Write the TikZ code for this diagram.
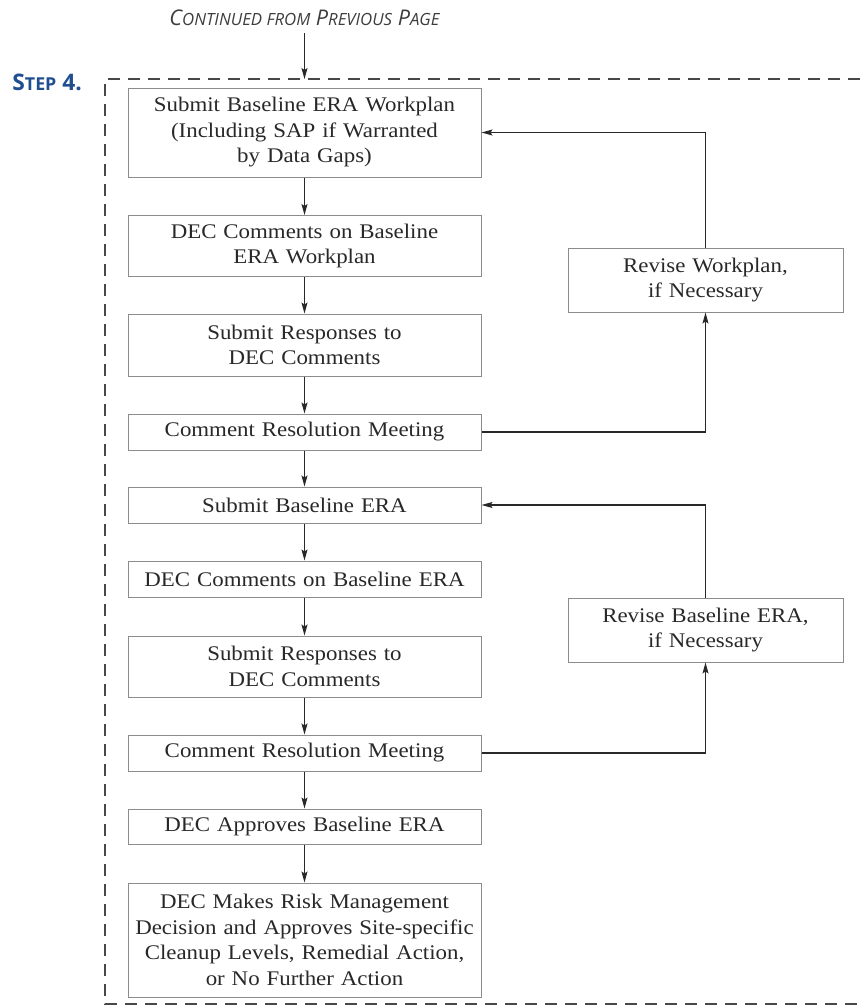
\documentclass[tikz,border=0pt]{standalone}
\usepackage{fontspec}
\setmainfont{Liberation Serif}[FakeStretch=1.1]
\newfontfamily\headfont{Open Sans}
\usetikzlibrary{arrows.meta}

\definecolor{stepblue}{RGB}{31,78,145}
\definecolor{boxgray}{RGB}{140,140,140}
\definecolor{inkgray}{RGB}{40,40,40}

\tikzset{
  flowbox/.style={draw=boxgray, line width=0.5pt, text=inkgray, align=center,
    inner xsep=2pt, inner ysep=0pt, font=\fontsize{10.4}{12.75}\selectfont},
  mainbox/.style={flowbox, minimum width=176.5pt, text width=172pt, minimum height=#1},
  sidebox/.style={flowbox, minimum width=137.5pt, text width=133pt, minimum height=#1},
  link/.style={draw=inkgray, line width=0.6pt, -{Stealth[length=5.5pt,width=3pt,inset=1pt]}},
  frame/.style={draw=inkgray!85, line width=1pt, dash pattern=on 6pt off 4pt}
}

\newcommand{\smallsc}[1]{{\fontsize{8.4}{9}\selectfont #1}}

\begin{document}
\begin{tikzpicture}[x=0.5pt,y=-0.5pt]
  \useasboundingbox (0,0) rectangle (860,1007);

  % heading
  \node[font=\headfont\itshape\fontsize{10.8}{12}\selectfont, text=inkgray!90] (cont) at (304.5,18)
    {C\smallsc{ONTINUED FROM} P\smallsc{REVIOUS} P\smallsc{AGE}};
  \node[font=\headfont\bfseries\fontsize{11.4}{13}\selectfont, text=stepblue, anchor=west, inner sep=0pt] (step) at (12,82)
    {S{\fontsize{8.9}{10}\selectfont TEP} 4.};

  % frame
  \draw[frame] (860,79) -- (105,79) -- (105,1004) -- (860,1004);
  \coordinate (entry) at (304.5,79);

  % main column
  \node[mainbox=44.5pt] (wp)      at (304.5,132.5) {Submit Baseline ERA Workplan\\(Including SAP if Warranted\\by Data Gaps)};
  \node[mainbox=30.5pt] (wpcom)   at (304.5,246)   {DEC Comments on Baseline\\ERA Workplan};
  \node[mainbox=31pt]   (wpresp)  at (304.5,345)   {Submit Responses to\\DEC Comments};
  \node[mainbox=18pt]   (wpmeet)  at (304.5,432)   {Comment Resolution Meeting};
  \node[mainbox=18pt]   (era)     at (304.5,505)   {Submit Baseline ERA};
  \node[mainbox=18pt]   (eracom)  at (304.5,579)   {DEC Comments on Baseline ERA};
  \node[mainbox=30.5pt] (eraresp) at (304.5,666.5) {Submit Responses to\\DEC Comments};
  \node[mainbox=18pt]   (erameet) at (304.5,753)   {Comment Resolution Meeting};
  \node[mainbox=17.5pt] (approve) at (304.5,826.5) {DEC Approves Baseline ERA};
  \node[mainbox=57pt]   (decide)  at (304.5,940)   {DEC Makes Risk Management\\Decision and Approves Site-specific\\Cleanup Levels, Remedial Action,\\or No Further Action};

  % revision loops
  \node[sidebox=32pt] (revwp)  at (705.5,280) {Revise Workplan,\\if Necessary};
  \node[sidebox=32pt] (revera) at (705.5,630) {Revise Baseline ERA,\\if Necessary};

  % connectors
  \draw[link] (cont) -- (entry);
  \draw[link] (wp) -- (wpcom);
  \draw[link] (wpcom) -- (wpresp);
  \draw[link] (wpresp) -- (wpmeet);
  \draw[link] (wpmeet) -- (era);
  \draw[link] (era) -- (eracom);
  \draw[link] (eracom) -- (eraresp);
  \draw[link] (eraresp) -- (erameet);
  \draw[link] (erameet) -- (approve);
  \draw[link] (approve) -- (decide);

  \draw[link] (wpmeet) -| (revwp);
  \draw[link] (revwp) |- (wp);
  \draw[link] (erameet) -| (revera);
  \draw[link] (revera) |- (era);
\end{tikzpicture}
\end{document}
